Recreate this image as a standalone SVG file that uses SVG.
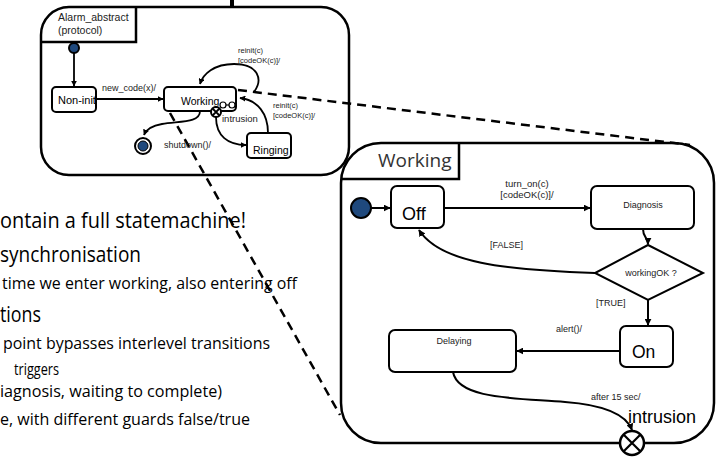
<svg xmlns="http://www.w3.org/2000/svg" width="721" height="468" viewBox="0 0 721 468">
<defs>
<marker id="ah" viewBox="0 0 10 10" refX="9" refY="5" markerWidth="7" markerHeight="7" markerUnits="userSpaceOnUse" orient="auto">
<path d="M0,0 L10,5 L0,10 z" fill="#000"/>
</marker>
<marker id="ahs" viewBox="0 0 10 10" refX="9" refY="5" markerWidth="6" markerHeight="6" markerUnits="userSpaceOnUse" orient="auto">
<path d="M0,0 L10,5 L0,10 z" fill="#000"/>
</marker>
</defs>
<style>
.frame{fill:#fff;stroke:#000;stroke-width:2.5}
.tab{fill:none;stroke:#000;stroke-width:2.5}
.st{fill:#fff;stroke:#000;stroke-width:2}
.ln{fill:none;stroke:#000;stroke-width:2;marker-end:url(#ah)}
.lns{fill:none;stroke:#000;stroke-width:1.8;marker-end:url(#ahs)}
.dash{fill:none;stroke:#000;stroke-width:2.5;stroke-dasharray:9 6}
.init{fill:#1f497d;stroke:#000;stroke-width:2}
.lbl{font-family:"Liberation Sans",Arial,sans-serif;fill:#222}
.big{font-family:"Liberation Sans",Arial,sans-serif;fill:#000}
.bul{font-family:"Open Sans","Liberation Sans",sans-serif;fill:#000}
.b1{font-size:21px}
.b2{font-size:16px}
</style>
<rect width="721" height="468" fill="#fff"/>

<g id="bullets">
<text class="bul b1" x="0" y="228" textLength="246" lengthAdjust="spacingAndGlyphs">ontain a full statemachine!</text>
<text class="bul b1" x="0" y="262" textLength="141" lengthAdjust="spacingAndGlyphs">synchronisation</text>
<text class="bul b2" x="2" y="289" textLength="295" lengthAdjust="spacingAndGlyphs">time we enter working, also entering off</text>
<text class="bul b1" x="0" y="322" textLength="41" lengthAdjust="spacingAndGlyphs">tions</text>
<text class="bul b2" x="3" y="349" textLength="267" lengthAdjust="spacingAndGlyphs">point bypasses interlevel transitions</text>
<text class="bul b2" x="14" y="375" textLength="45" lengthAdjust="spacingAndGlyphs">triggers</text>
<text class="bul b2" x="0" y="397" textLength="222" lengthAdjust="spacingAndGlyphs">iagnosis, waiting to complete)</text>
<text class="bul b2" x="0" y="425" textLength="250" lengthAdjust="spacingAndGlyphs">e, with different guards false/true</text>
</g>

<g id="top-bar">
<rect x="230" y="0" width="4" height="8" fill="#000"/>
</g>

<g id="alarm_abstract">
<rect class="frame" x="41" y="7" width="308" height="168" rx="28"/>
<path class="tab" d="M41 42 H136 V7"/>
<text class="lbl" x="58" y="21" font-size="10.5" fill="#000">Alarm_abstract</text>
<text class="lbl" x="58" y="34" font-size="10.5">(protocol)</text>
</g>

<g id="working_frame">
<rect class="frame" x="341" y="143" width="373" height="300" rx="40"/>
<path class="tab" d="M341 179 H459 V143"/>
<text x="378" y="167" font-family="'Open Sans','Liberation Sans',sans-serif" font-size="19" fill="#333">Working</text>
</g>

<g id="connectors">
<line class="lns" x1="74" y1="53" x2="74" y2="86"/>
<line class="lns" x1="96" y1="99" x2="163" y2="99"/>
<path class="lns" d="M254 92 C263 80 259 64 234 64 C214 64 203 74 200 84"/>
<path class="lns" d="M268 133 C268 114 258 100 240 98"/>
<path class="lns" d="M216 117 C216 136 228 145 246 145"/>
<path class="lns" d="M200 111 C200 123 180 121 162 124 C150 126 146 130 144 135"/>
<line class="dash" x1="238" y1="90" x2="690" y2="145"/>
<line class="dash" x1="170" y1="113" x2="340" y2="415"/>
<line class="ln" x1="371" y1="208" x2="390" y2="208"/>
<line class="ln" x1="444" y1="208" x2="590" y2="208"/>
<path class="ln" d="M643 229 C643 238 648 237 648 244"/>
<path class="ln" d="M595 273 C505 270 440 263 419 230"/>
<line class="ln" x1="648" y1="300" x2="648" y2="325"/>
<line class="ln" x1="620" y1="351" x2="517" y2="351"/>
<path class="ln" d="M453 372 C458 400 520 398 565 402 C605 405 626 414 632 430"/>
</g>

<g id="labels">
<text class="lbl" x="102" y="91" font-size="9">new_code(x)/</text>
<text class="lbl" x="238" y="53" font-size="7.5">reinit(c)</text>
<text class="lbl" x="238" y="63" font-size="7.5">[codeOK(c)]/</text>
<text class="lbl" x="273" y="108" font-size="7.5">reinit(c)</text>
<text class="lbl" x="273" y="118" font-size="7.5">[codeOK(c)]/</text>
<text class="lbl" x="222" y="122" font-size="9.5">intrusion</text>
<text class="lbl" x="164" y="148" font-size="9">shutdown()/</text>
<text class="lbl" x="527" y="187" font-size="9.5" text-anchor="middle">turn_on(c)</text>
<text class="lbl" x="527" y="198" font-size="9.5" text-anchor="middle">[codeOK(c)]/</text>
<text class="lbl" x="490" y="248" font-size="9">[FALSE]</text>
<text class="lbl" x="596" y="306" font-size="9">[TRUE]</text>
<text class="lbl" x="556" y="332" font-size="9">alert()/</text>
<text class="lbl" x="591" y="400" font-size="9">after 15 sec/</text>
</g>

<g id="alarm_initial"><circle class="init" cx="74" cy="48" r="5"/></g>
<g id="non_init">
<rect class="st" x="52" y="87" width="44" height="25" rx="4"/>
<text class="big" x="58" y="104" font-size="11">Non-init</text>
</g>
<g id="working">
<rect class="st" x="164" y="87" width="72" height="24" rx="4"/>
<text class="big" x="181" y="105" font-size="10.5" fill="#222">Working</text>
<line x1="223" y1="105" x2="232" y2="105" stroke="#000" stroke-width="1.2"/>
<circle cx="223" cy="105" r="3" fill="#fff" stroke="#000" stroke-width="1.2"/>
<circle cx="232" cy="105" r="3" fill="#fff" stroke="#000" stroke-width="1.2"/>
</g>
<g id="alarm_exit">
<circle cx="216" cy="112" r="5" fill="#fff" stroke="#000" stroke-width="2"/>
<path d="M212.5 108.5 L219.5 115.5 M219.5 108.5 L212.5 115.5" stroke="#000" stroke-width="1.8"/>
</g>
<g id="ringing">
<rect class="st" x="247" y="133" width="44" height="25" rx="4"/>
<text class="big" x="253" y="154" font-size="10.5">Ringing</text>
</g>
<g id="alarm_final">
<circle cx="143" cy="146" r="8" fill="#fff" stroke="#000" stroke-width="2"/>
<circle cx="143" cy="146" r="5" fill="#1f497d" stroke="#000" stroke-width="1"/>
</g>

<g id="working_initial"><circle class="init" cx="361" cy="208" r="10"/></g>
<g id="off">
<rect class="st" x="391" y="186" width="53" height="42" rx="6"/>
<text class="big" x="402" y="220" font-size="18">Off</text>
</g>
<g id="diagnosis">
<rect class="st" x="591" y="186" width="103" height="43" rx="6"/>
<text class="lbl" x="643" y="208" font-size="9" text-anchor="middle">Diagnosis</text>
</g>
<g id="workingOK">
<polygon points="648,245 703,273 648,300 595,273" fill="#fff" stroke="#000" stroke-width="2"/>
<text class="lbl" x="651" y="276" font-size="9" text-anchor="middle">workingOK ?</text>
</g>
<g id="on">
<rect class="st" x="620" y="326" width="53" height="41" rx="6"/>
<text class="big" x="632" y="358" font-size="17.5">On</text>
</g>
<g id="delaying">
<rect class="st" x="389" y="330" width="127" height="42" rx="6"/>
<text class="lbl" x="454" y="344" font-size="9" text-anchor="middle">Delaying</text>
</g>
<g id="intrusion_exit">
<text class="big" x="628" y="423" font-size="18" fill="#111">intrusion</text>
<circle cx="632" cy="443" r="12" fill="#fff" stroke="#000" stroke-width="2.5"/>
<path d="M623.5 434.5 L640.5 451.5 M640.5 434.5 L623.5 451.5" stroke="#000" stroke-width="2.2"/>
</g>
</svg>
